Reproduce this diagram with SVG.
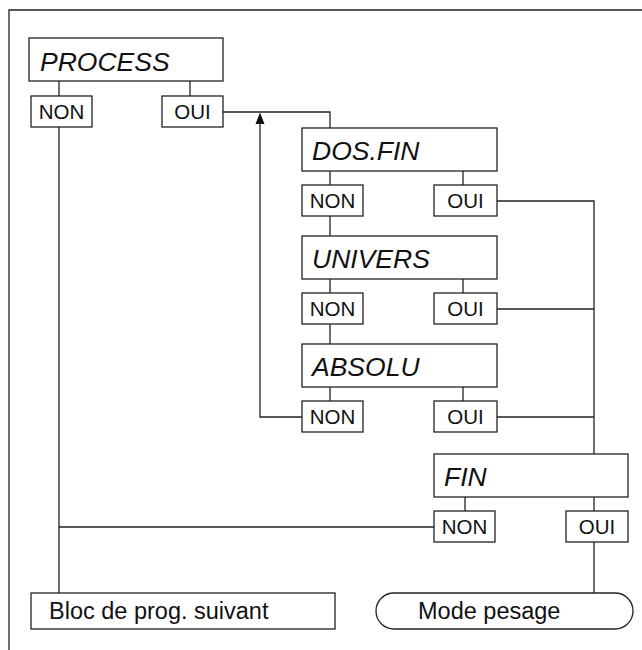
<svg xmlns="http://www.w3.org/2000/svg" width="642" height="650" viewBox="0 0 642 650">
<style>
.box{fill:#fff;stroke:#222;stroke-width:1.3}
.ln{fill:none;stroke:#222;stroke-width:1.3}
.ttl{font-family:"Liberation Sans",Arial,sans-serif;font-style:italic;font-size:26.5px;fill:#111}
.yn{font-family:"Liberation Sans",Arial,sans-serif;font-size:20.5px;fill:#111;text-anchor:middle}
.big{font-family:"Liberation Sans",Arial,sans-serif;font-size:23.5px;fill:#111}
</style>
<g id="frame">
<path class="ln" d="M9,650 V10 H642" stroke-width="1.6"/>
</g>
<g id="connectors">
<path class="ln" d="M59,81 V96 M190,81 V96 M59,127 V593"/>
<path class="ln" d="M223,112 H330 V128"/>
<path class="ln" d="M330,171 V185 M463,171 V185 M330,216 V236"/>
<path class="ln" d="M497,201 H594 V454"/>
<path class="ln" d="M330,279 V293 M463,279 V293 M330,324 V344 M497,309 H594"/>
<path class="ln" d="M330,387 V401 M463,387 V401 M497,417 H594"/>
<path class="ln" d="M302,417 H260 V123"/>
<path d="M260,112.5 L255.5,124 L264.5,124 Z" fill="#111"/>
<path class="ln" d="M465,497 V511 M594,497 V511 M434,527 H59 M594,542 V593"/>
</g>
<g id="process">
<rect class="box" x="29" y="38" width="194" height="43"/>
<text class="ttl" x="40" y="71">PROCESS</text>
</g>
<g id="process-non"><rect class="box" x="31" y="96" width="61" height="31"/><text class="yn" x="61.5" y="119">NON</text></g>
<g id="process-oui"><rect class="box" x="162" y="96" width="61" height="31"/><text class="yn" x="192.5" y="119">OUI</text></g>
<g id="dosfin">
<rect class="box" x="302" y="128" width="195" height="43"/>
<text class="ttl" x="312" y="160">DOS.FIN</text>
</g>
<g id="dosfin-non"><rect class="box" x="302" y="185" width="61" height="31"/><text class="yn" x="332.5" y="208">NON</text></g>
<g id="dosfin-oui"><rect class="box" x="434" y="185" width="63" height="31"/><text class="yn" x="465.5" y="208">OUI</text></g>
<g id="univers">
<rect class="box" x="302" y="236" width="195" height="43"/>
<text class="ttl" x="312" y="268">UNIVERS</text>
</g>
<g id="univers-non"><rect class="box" x="302" y="293" width="61" height="31"/><text class="yn" x="332.5" y="316">NON</text></g>
<g id="univers-oui"><rect class="box" x="434" y="293" width="63" height="31"/><text class="yn" x="465.5" y="316">OUI</text></g>
<g id="absolu">
<rect class="box" x="302" y="344" width="195" height="43"/>
<text class="ttl" x="312" y="376">ABSOLU</text>
</g>
<g id="absolu-non"><rect class="box" x="302" y="401" width="61" height="31"/><text class="yn" x="332.5" y="424">NON</text></g>
<g id="absolu-oui"><rect class="box" x="434" y="401" width="63" height="31"/><text class="yn" x="465.5" y="424">OUI</text></g>
<g id="fin">
<rect class="box" x="434" y="454" width="194" height="43"/>
<text class="ttl" x="444" y="486">FIN</text>
</g>
<g id="fin-non"><rect class="box" x="434" y="511" width="61" height="31"/><text class="yn" x="464.5" y="534">NON</text></g>
<g id="fin-oui"><rect class="box" x="566" y="511" width="62" height="31"/><text class="yn" x="597" y="534">OUI</text></g>
<g id="bloc">
<rect class="box" x="31" y="593" width="304" height="36"/>
<text class="big" x="49" y="619">Bloc de prog. suivant</text>
</g>
<g id="mode">
<rect class="box" x="376" y="593" width="257" height="36" rx="18" ry="18"/>
<text class="big" x="418" y="619">Mode pesage</text>
</g>
</svg>
